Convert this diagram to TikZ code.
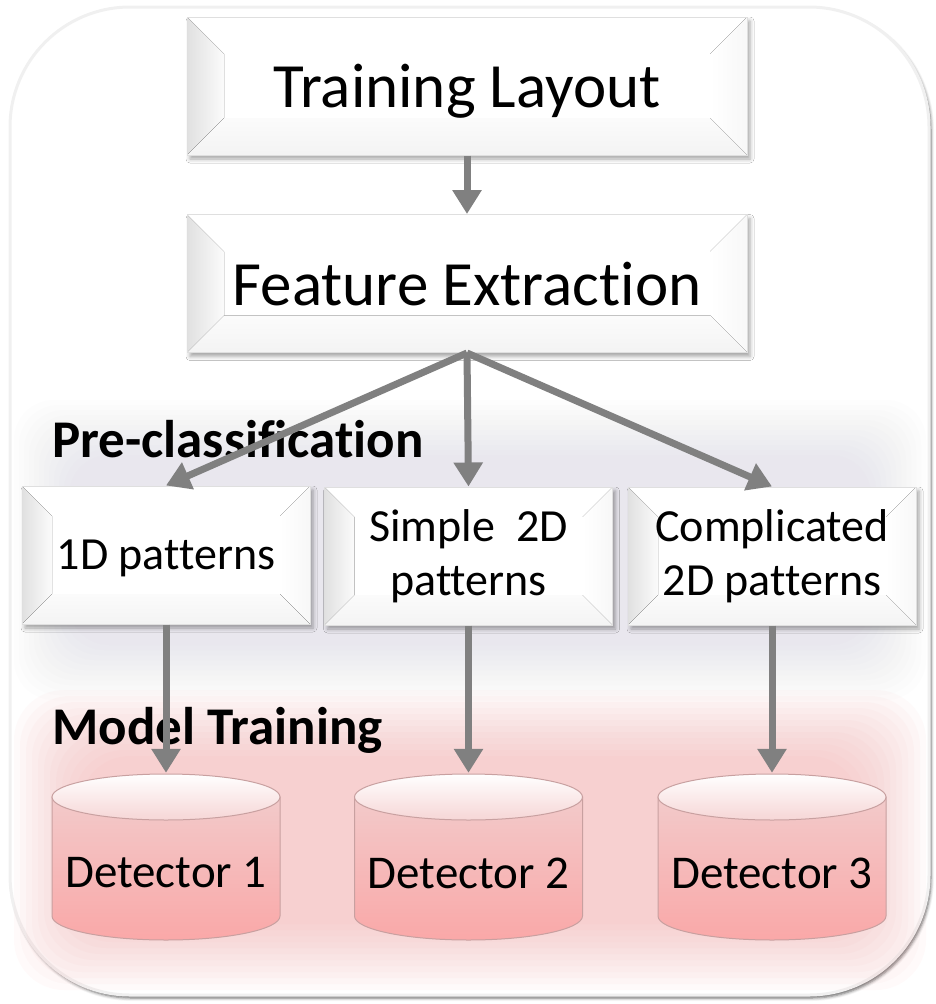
\documentclass[tikz,border=0pt]{standalone}
\usepackage{fontspec}
\setmainfont[Ligatures=NoCommon,RawFeature={-liga;-clig;-calt;-dlig}]{Carlito}
\usetikzlibrary{arrows.meta,shadows.blur}
\definecolor{Link}{RGB}{128,128,128}
\definecolor{Blush}{RGB}{247,165,165}
\definecolor{Haze}{RGB}{205,198,215}
\definecolor{DrumTop}{RGB}{242,202,202}
\definecolor{DrumBot}{RGB}{250,168,168}
\definecolor{DrumCap}{RGB}{246,214,214}
\definecolor{DrumEdge}{RGB}{200,160,160}
% bevelled face of a box, #1 = depth of the bevel
\newcommand{\bevelfaces}[1]{%
  \fill[white] (path picture bounding box.south west) rectangle (path picture bounding box.north east);
  \fill[left color=gray!24,right color=gray!3] (path picture bounding box.south west) -- (path picture bounding box.north west) -- ([shift={(#1,-#1)}]path picture bounding box.north west) -- ([shift={(#1,#1)}]path picture bounding box.south west) -- cycle;
  \fill[left color=white,right color=gray!6] (path picture bounding box.north east) -- (path picture bounding box.south east) -- ([shift={(-#1,#1)}]path picture bounding box.south east) -- ([shift={(-#1,-#1)}]path picture bounding box.north east) -- cycle;
  \fill[top color=gray!3,bottom color=gray!9] (path picture bounding box.south west) -- (path picture bounding box.south east) -- ([shift={(-#1,#1)}]path picture bounding box.south east) -- ([shift={(#1,#1)}]path picture bounding box.south west) -- cycle;
}
% drum drawn from the top of the node
\newcommand{\drumfaces}{%
  \coordinate (dn) at (path picture bounding box.north);
  \path[top color=DrumTop,bottom color=DrumBot,draw=DrumEdge,line width=1pt] ([shift={(-114pt,-24pt)}]dn) -- ([shift={(-114pt,-143pt)}]dn) arc[start angle=180,end angle=360,x radius=114pt,y radius=24pt] -- ([shift={(114pt,-24pt)}]dn) -- cycle;
  \path[top color=white,bottom color=DrumCap,draw=DrumEdge,line width=1pt] ([shift={(0pt,-24pt)}]dn) ellipse[x radius=114pt,y radius=23pt];
}
\begin{document}
\begin{tikzpicture}[x=1pt,y=-1pt]
\tikzstyle{Block} = [draw=gray!25, line width=1pt, minimum width=560pt, minimum height=138pt, inner sep=0pt, text depth=0pt, font={\fontsize{63}{72}\selectfont}, path picture={\bevelfaces{37pt}}, blur shadow={shadow xshift=3pt,shadow yshift=-4pt,shadow blur radius=4pt,shadow opacity=35}]
\tikzstyle{Pattern} = [draw=gray!25, line width=1pt, minimum width=288pt, minimum height=138pt, inner sep=0pt, align=center, font={\fontsize{46}{54}\selectfont}, path picture={\bevelfaces{30pt}}, blur shadow={shadow xshift=3pt,shadow yshift=-4pt,shadow blur radius=4pt,shadow opacity=35}]
\tikzstyle{Drum} = [minimum width=230pt, minimum height=200pt, inner sep=0pt, font={\fontsize{47}{56}\selectfont}, path picture={\drumfaces}]
\tikzstyle{Stage} = [anchor=base west, inner sep=0pt, font={\fontsize{53}{60}\bfseries\selectfont}]
\tikzstyle{Link} = [draw=Link, line width=7pt, -{Triangle[length=24pt,width=28pt]}]
\useasboundingbox (0,0) rectangle (935,1004);
\draw[draw=gray!12, line width=3pt, fill=white, rounded corners=120pt, blur shadow={shadow xshift=2pt,shadow yshift=-3pt,shadow blur radius=3pt,shadow opacity=60}] (10,7) rectangle (929,995);
% soft backdrops
\foreach \k in {0,...,11}
  \fill[Haze, opacity=0.03, rounded corners=40pt] (14+5*\k,400+5*\k) rectangle (926-5*\k,700-5*\k);
\foreach \k in {0,...,11}
  \fill[Blush, opacity=0.05, rounded corners=50pt] (14+6*\k,690+6*\k) rectangle (926-6*\k,990-6*\k);
\node [Block] (v1) at (467,86) {Training Layout};
\node [Block] (v2) at (467,283.5) {Feature Extraction};
\node [Stage] (v9) at (52,457) {Pre-classification};
\node [Pattern, text depth=0pt] (v3) at (166,555) {1D patterns};
\node [Pattern] (v4) at (468.5,556) {Simple\ \ 2D\\patterns};
\node [Pattern] (v5) at (772,556) {Complicated\\2D patterns};
\node [Stage] (v10) at (52,744) {Model Training};
\node [Drum] (v6) at (166,873) {Detector 1};
\node [Drum] (v7) at (468.5,873) {Detector 2};
\node [Drum] (v8) at (772,873) {Detector 3};
\draw [Link] (v1) -- (v2);
\draw [Link] (v2.south) -- (v3.north);
\draw [Link] (v2.south) -- (v4.north);
\draw [Link] (v2.south) -- (v5.north);
\draw [Link] (v3) -- (v6);
\draw [Link] (v4) -- (v7);
\draw [Link] (v5) -- (v8);
\end{tikzpicture}
\end{document}
